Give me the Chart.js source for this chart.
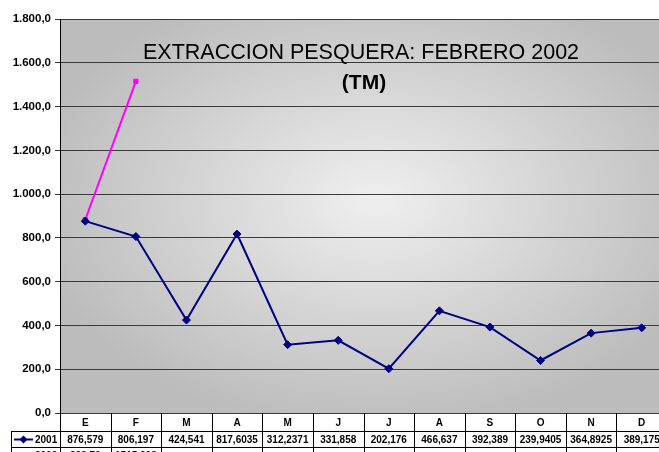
<!DOCTYPE html>
<html>
<head>
<meta charset="utf-8">
<script src="https://cdn.jsdelivr.net/npm/chart.js@4/dist/chart.umd.min.js"></script>
<style>
html, body { margin: 0; padding: 0; background: #fff; overflow: hidden; }
#wrap { width: 672px; height: 452px; }
</style>
</head>
<body>
<div id="wrap"><canvas id="grafico" width="672" height="452"></canvas></div>
<script>
var meses = ['E', 'F', 'M', 'A', 'M', 'J', 'J', 'A', 'S', 'O', 'N', 'D'];
var serie2001 = [876.579, 806.197, 424.541, 817.6035, 312.2371, 331.858, 202.176, 466.637, 392.389, 239.9405, 364.8925, 389.175];
var serie2002 = [882.76, 1515.298, null, null, null, null, null, null, null, null, null, null];
var yTicks = [0, 200, 400, 600, 800, 1000, 1200, 1400, 1600, 1800];
var titulo = ['EXTRACCION PESQUERA: FEBRERO 2002', '(TM)'];

function fmtEje(v) {
    var s = v.toFixed(1).split('.');
    return s[0].replace(/\B(?=(\d{3})+(?!\d))/g, '.') + ',' + s[1];
}
function fmtTabla(v) {
    return v == null ? '' : String(v).replace('.', ',');
}

var fondo = {
    id: 'fondo',
    beforeDraw: function(chart) {
        var a = chart.chartArea, ctx = chart.ctx;
        var cx = 375, cy = 200;
        ctx.save();
        ctx.translate(cx, cy);
        ctx.scale(1.5, 1);
        var g = ctx.createRadialGradient(0, 0, 10, 0, 0, 230);
        g.addColorStop(0, '#ededed');
        g.addColorStop(1, '#bcbcbc');
        ctx.fillStyle = g;
        ctx.fillRect((a.left - cx) / 1.5, a.top - cy, (a.right - a.left) / 1.5, a.bottom - a.top);
        ctx.restore();
    }
};

var tabla = {
    id: 'tabla',
    afterDraw: function(chart) {
        var ctx = chart.ctx, a = chart.chartArea, x = chart.scales.x;
        var w = (a.right - a.left) / meses.length;
        ctx.save();

        // titulo
        ctx.fillStyle = '#000';
        ctx.textAlign = 'center';
        ctx.textBaseline = 'alphabetic';
        ctx.font = '21.5px "Liberation Sans", Arial, sans-serif';
        ctx.fillText(titulo[0], 361, 59);
        ctx.font = 'bold 21px "Liberation Sans", Arial, sans-serif';
        ctx.fillText(titulo[1], 364, 89);

        // tabla de datos
        var y0 = a.bottom, y1 = a.bottom + 18, y2 = y1 + 16, y3 = y2 + 16;
        ctx.strokeStyle = '#000';
        ctx.lineWidth = 1;
        ctx.beginPath();
        for (var i = 0; i <= meses.length; i++) {
            var lx = Math.round(a.left + i * w) + 0.5;
            ctx.moveTo(lx, y0);
            ctx.lineTo(lx, 460);
        }
        ctx.moveTo(11.5, y1 + 0.5); ctx.lineTo(a.right, y1 + 0.5);
        ctx.moveTo(11.5, y2 + 0.5); ctx.lineTo(a.right, y2 + 0.5);
        ctx.moveTo(11.5, y1); ctx.lineTo(11.5, 460);
        ctx.stroke();

        ctx.font = 'bold 10px "Liberation Sans", Arial, sans-serif';
        ctx.textBaseline = 'middle';
        ctx.textAlign = 'center';
        meses.forEach(function(m, i) {
            var cxp = x.getPixelForValue(i);
            ctx.fillText(m, cxp, (y0 + y1) / 2 + 1);
            ctx.fillText(fmtTabla(serie2001[i]), cxp, (y1 + y2) / 2 + 1);
            ctx.fillText(fmtTabla(serie2002[i]), cxp, (y2 + y3) / 2 + 1);
        });

        // leyenda dentro de la tabla
        chart.data.datasets.forEach(function(ds, j) {
            var ry = (j === 0 ? (y1 + y2) / 2 : (y2 + y3) / 2) + 0.5;
            ctx.strokeStyle = ds.borderColor;
            ctx.fillStyle = ds.borderColor;
            ctx.lineWidth = 2;
            ctx.beginPath();
            ctx.moveTo(14, ry); ctx.lineTo(33, ry);
            ctx.stroke();
            ctx.beginPath();
            if (j === 0) {
                ctx.moveTo(23.5, ry - 4); ctx.lineTo(27.5, ry); ctx.lineTo(23.5, ry + 4); ctx.lineTo(19.5, ry);
            } else {
                ctx.rect(20.5, ry - 3, 6, 6);
            }
            ctx.fill();
            ctx.fillStyle = '#000';
            ctx.textAlign = 'left';
            ctx.fillText(ds.label, 35, ry + 0.5);
        });
        ctx.restore();
    }
};

new Chart(document.getElementById('grafico'), {
    type: 'line',
    data: {
        labels: meses,
        datasets: [{
            label: '2001',
            data: serie2001,
            borderColor: '#000080',
            backgroundColor: '#000080',
            borderWidth: 2,
            pointStyle: 'rectRot',
            pointRadius: 4,
            pointBorderWidth: 1,
            tension: 0
        }, {
            label: '2002',
            data: serie2002,
            borderColor: '#ff00ff',
            backgroundColor: '#ff00ff',
            borderWidth: 2,
            pointStyle: 'rect',
            pointRadius: 3,
            pointBorderWidth: 1,
            spanGaps: false,
            tension: 0
        }]
    },
    options: {
        responsive: false,
        animation: false,
        layout: { padding: { top: 19, left: 0, right: 0, bottom: 0 } },
        plugins: {
            legend: { display: false },
            tooltip: { enabled: false },
            title: { display: false }
        },
        scales: {
            x: {
                type: 'category',
                offset: true,
                grid: { display: false },
                border: { display: false },
                ticks: { display: false },
                afterFit: function(s) { s.height = 39; }
            },
            y: {
                min: 0,
                max: 1800,
                afterBuildTicks: function(s) {
                    s.ticks = yTicks.map(function(v) { return { value: v }; });
                },
                afterFit: function(s) { s.width = 60; },
                grid: { color: '#3a3a3a', lineWidth: 1, tickLength: 5 },
                border: { color: '#000', width: 1 },
                ticks: {
                    color: '#000',
                    padding: 4,
                    font: { family: '"Liberation Sans", Arial, sans-serif', size: 11.5, weight: 'bold' },
                    callback: function(v) { return fmtEje(v); }
                }
            }
        }
    },
    plugins: [fondo, tabla]
});
</script>
</body>
</html>
